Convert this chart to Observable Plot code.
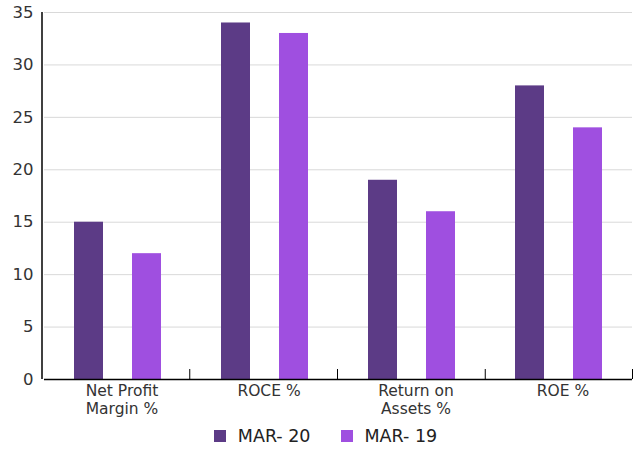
<!DOCTYPE html>
<html><head>
<meta charset="utf-8">
<script src="https://cdn.jsdelivr.net/npm/d3@7"></script>
<script src="https://cdn.jsdelivr.net/npm/@observablehq/plot@0.6"></script>
<style>
body{margin:0;background:#fff;font-family:"DejaVu Sans",sans-serif;}
#legend{width:633px;display:flex;justify-content:center;align-items:center;gap:30px;padding-left:18px;box-sizing:border-box;margin-top:6px;font-size:17.5px;color:#222;}
#legend span.sw{display:inline-block;width:12px;height:12px;margin-right:12px;vertical-align:middle;}
#legend .item{display:flex;align-items:center;}
</style>
</head><body>
<div id="chart"></div>
<div id="legend"></div>
<script>
const categories = ["Net Profit\nMargin %", "ROCE %", "Return on\nAssets %", "ROE %"];
const series = ["MAR- 20", "MAR- 19"];
const mar20 = [15, 34, 19, 28];
const mar19 = [12, 33, 16, 24];
const yTicks = [0, 5, 10, 15, 20, 25, 30, 35];
const colors = ["#5c3b86", "#9f4fe0"];

const data = categories.flatMap((c, i) => [
  {cat: c, s: series[0], v: mar20[i]},
  {cat: c, s: series[1], v: mar19[i]}
]);

const plot = Plot.plot({
  width: 633, height: 420,
  marginLeft: 42, marginRight: 0, marginTop: 12, marginBottom: 41,
  style: {fontFamily: '"DejaVu Sans", sans-serif', fontSize: "15px", color: "#333", background: "#fff"},
  fx: {domain: categories, padding: 0, label: null},
  x: {domain: series, padding: 0.5, axis: null},
  y: {domain: [0, 35], label: null},
  color: {domain: series, range: colors},
  marks: [
    Plot.gridY(yTicks, {stroke: "#d9d9d9", strokeOpacity: 1, strokeWidth: 1}),
    Plot.axisY(yTicks, {tickSize: 0, tickPadding: 11, fontSize: 16.5, label: null, fill: "#333"}),
    Plot.axisFx({anchor: "bottom", tickSize: 0, tickPadding: 4, fontSize: 15.5, lineHeight: 1.15, label: null, fill: "#333", dx: 4}),
    Plot.barY(data, {fx: "cat", x: "s", y: "v", fill: "s"}),
    Plot.ruleY([0], {stroke: "#000", strokeWidth: 1.5})
  ]
});

document.getElementById("chart").appendChild(plot);

// axis line and group boundary ticks drawn from the library's scales
const fx = plot.scale("fx");
const ys = plot.scale("y");
const yPos = v => ys.range[0] + (v - ys.domain[0]) / (ys.domain[1] - ys.domain[0]) * (ys.range[1] - ys.range[0]);
const svg = d3.select(plot);
const x0 = fx.range[0];
const step = (fx.range[1] - fx.range[0]) / fx.domain.length;
svg.append("line").attr("x1", x0).attr("x2", x0).attr("y1", yPos(35)).attr("y2", yPos(0))
  .attr("stroke", "#000").attr("stroke-width", 1.5);
const bounds = d3.range(1, fx.domain.length + 1).map(i => x0 + i * step);
svg.selectAll("line.bt").data(bounds).join("line").attr("class", "bt")
  .attr("x1", d => Math.min(d, 632.5)).attr("x2", d => Math.min(d, 632.5))
  .attr("y1", yPos(0) - 10).attr("y2", yPos(0))
  .attr("stroke", "#000").attr("stroke-width", 1);

const legend = d3.select("#legend");
series.forEach((s, i) => {
  const it = legend.append("div").attr("class", "item");
  it.append("span").attr("class", "sw").style("background", colors[i]);
  it.append("span").text(s);
});
</script>
</body></html>
